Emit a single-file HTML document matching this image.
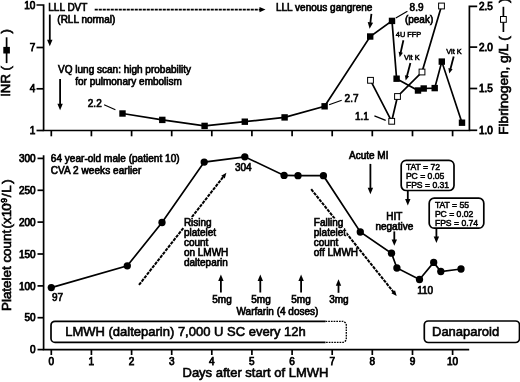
<!DOCTYPE html>
<html><head><meta charset="utf-8"><title>Figure</title>
<style>
html,body{margin:0;padding:0;background:#fff;}
body{width:520px;height:382px;overflow:hidden;position:relative;}
svg{position:absolute;left:0;top:0;display:block;filter:blur(0.3px);}
text{font-family:"Liberation Sans",sans-serif;fill:#000;stroke:#000;stroke-width:0.45px;}
.t10{font-size:10px;stroke-width:0.65px;}
.tk{font-size:10px;stroke-width:0.75px;}
.tkr{font-size:10px;stroke-width:0.8px;}
.t9{font-size:8.6px;stroke-width:0.5px;}
.t7{font-size:7.4px;stroke-width:0.5px;}
.t13{font-size:13px;stroke-width:0.6px;}
.ax{font-size:13.5px;stroke-width:0.65px;}
.ln{stroke:#000;stroke-width:1.7;fill:none;}
.ar{stroke:#000;stroke-width:1.8;fill:none;}
.thin{stroke:#000;stroke-width:1.2;fill:none;}
.dash{stroke:#000;stroke-width:2.05;fill:none;stroke-dasharray:3.3 1.0;}
</style></head><body>
<svg width="520" height="382" viewBox="0 0 520 382">
<rect x="0" y="0" width="520" height="382" fill="#fff"/>

<g class="ln">
<path d="M36.5,5 H43.6 V130.5 H469.4 V6.4 H477.2"/>
<path d="M36.5,47.5 H43.6"/>
<path d="M36.5,88.8 H43.6"/>
<path d="M36.5,130.5 H43.6"/>
<path d="M469.4,47.1 H477.2"/>
<path d="M469.4,88.5 H477.2"/>
<path d="M469.4,130.3 H477.2"/>
<path d="M51.3,130.5 V136.3"/>
<path d="M91.4,130.5 V136.3"/>
<path d="M131.6,130.5 V136.3"/>
<path d="M171.7,130.5 V136.3"/>
<path d="M211.8,130.5 V136.3"/>
<path d="M251.9,130.5 V136.3"/>
<path d="M292.1,130.5 V136.3"/>
<path d="M332.2,130.5 V136.3"/>
<path d="M372.3,130.5 V136.3"/>
<path d="M412.5,130.5 V136.3"/>
<path d="M452.6,130.5 V136.3"/>
<path d="M43.6,155.3 V349.7 H469.2"/>
<path d="M37.5,349.6 H43.6"/>
<path d="M37.5,317.7 H43.6"/>
<path d="M37.5,285.9 H43.6"/>
<path d="M37.5,254.0 H43.6"/>
<path d="M37.5,222.1 H43.6"/>
<path d="M37.5,190.3 H43.6"/>
<path d="M37.5,158.4 H43.6"/>
<path d="M51.3,349.7 V355"/>
<path d="M91.4,349.7 V355"/>
<path d="M131.6,349.7 V355"/>
<path d="M171.7,349.7 V355"/>
<path d="M211.8,349.7 V355"/>
<path d="M251.9,349.7 V355"/>
<path d="M292.1,349.7 V355"/>
<path d="M332.2,349.7 V355"/>
<path d="M372.3,349.7 V355"/>
<path d="M412.5,349.7 V355"/>
<path d="M452.6,349.7 V355"/>
</g>
<text class="tk" x="35.3" y="8.6" text-anchor="end">10</text>
<text class="tk" x="35.3" y="51.1" text-anchor="end">7</text>
<text class="tk" x="35.3" y="92.39999999999999" text-anchor="end">4</text>
<text class="tk" x="35.3" y="134.1" text-anchor="end">1</text>
<text class="tkr" x="479" y="10.0">2.5</text>
<text class="tkr" x="479" y="50.7">2.0</text>
<text class="tkr" x="479" y="92.1">1.5</text>
<text class="tkr" x="479" y="133.9">1.0</text>
<text class="tk" x="35.6" y="353.2" text-anchor="end">0</text>
<text class="tk" x="35.6" y="321.3" text-anchor="end">50</text>
<text class="tk" x="35.6" y="289.5" text-anchor="end">100</text>
<text class="tk" x="35.6" y="257.6" text-anchor="end">150</text>
<text class="tk" x="35.6" y="225.7" text-anchor="end">200</text>
<text class="tk" x="35.6" y="193.9" text-anchor="end">250</text>
<text class="tk" x="35.6" y="162.0" text-anchor="end">300</text>
<text class="tk" x="51.3" y="364.6" text-anchor="middle">0</text>
<text class="tk" x="91.4" y="364.6" text-anchor="middle">1</text>
<text class="tk" x="131.6" y="364.6" text-anchor="middle">2</text>
<text class="tk" x="171.7" y="364.6" text-anchor="middle">3</text>
<text class="tk" x="211.8" y="364.6" text-anchor="middle">4</text>
<text class="tk" x="251.9" y="364.6" text-anchor="middle">5</text>
<text class="tk" x="292.1" y="364.6" text-anchor="middle">6</text>
<text class="tk" x="332.2" y="364.6" text-anchor="middle">7</text>
<text class="tk" x="372.3" y="364.6" text-anchor="middle">8</text>
<text class="tk" x="412.5" y="364.6" text-anchor="middle">9</text>
<text class="tk" x="452.6" y="364.6" text-anchor="middle">10</text>
<text class="t13" x="182.5" y="377.4">Days after start of LMWH</text>
<text class="ax" style="font-size:13.4px" transform="translate(11,311) rotate(-90)">Platelet count<tspan dx="-2.3"> (x1</tspan><tspan dx="-0.8">0</tspan><tspan dx="-2.45" dy="-4.1" style="font-size:8.5px">-9</tspan><tspan dx="0.8" dy="4.1">/</tspan><tspan dx="0.7">L</tspan><tspan dx="1.65">)</tspan></text>
<text class="ax" style="font-size:13.2px" transform="translate(10.4,96.8) rotate(-90)">INR (</text>
<text class="ax" style="font-size:13.2px" transform="translate(10.4,33.5) rotate(-90)">)</text>
<path class="ln" d="M6.6,63.1 V37.3"/><rect x="3.3" y="46.9" width="6.6" height="6.6" fill="#000"/>
<text class="ax" style="font-size:13.6px" transform="translate(507.8,134.7) rotate(-90)">Fibrinogen, g/L (</text>
<text class="ax" style="font-size:13.6px" transform="translate(507.8,2.8) rotate(-90)">)</text>
<path class="ln" d="M503.4,32 V6.8"/><rect x="500.5" y="16.5" width="5.8" height="5.8" fill="#fff" stroke="#000" stroke-width="1"/>
<path class="dash" style="stroke-width:1.8;stroke-dasharray:3.1 0.9" d="M94.7,9.6 H261"/><path d="M265.5,9.6 L259.5,7 L259.5,12.2 Z" fill="#000"/>
<polyline class="ln" points="122.5,113.5 162.3,119.9 204.6,125.9 244.8,121.7 284.6,117.4 324.6,106.3 370.2,36.5 392,20.9 396.6,78.7 418,90.5 423.7,88.5 434.7,88.1 441.8,61.6 462,122.7"/>
<rect x="119.3" y="110.3" width="6.4" height="6.4" fill="#000"/>
<rect x="159.1" y="116.7" width="6.4" height="6.4" fill="#000"/>
<rect x="201.4" y="122.7" width="6.4" height="6.4" fill="#000"/>
<rect x="241.6" y="118.5" width="6.4" height="6.4" fill="#000"/>
<rect x="281.4" y="114.2" width="6.4" height="6.4" fill="#000"/>
<rect x="321.4" y="103.1" width="6.4" height="6.4" fill="#000"/>
<rect x="367.0" y="33.3" width="6.4" height="6.4" fill="#000"/>
<rect x="388.8" y="17.7" width="6.4" height="6.4" fill="#000"/>
<rect x="393.4" y="75.5" width="6.4" height="6.4" fill="#000"/>
<rect x="414.8" y="87.3" width="6.4" height="6.4" fill="#000"/>
<rect x="420.5" y="85.3" width="6.4" height="6.4" fill="#000"/>
<rect x="431.5" y="84.9" width="6.4" height="6.4" fill="#000"/>
<rect x="438.6" y="58.4" width="6.4" height="6.4" fill="#000"/>
<rect x="458.8" y="119.5" width="6.4" height="6.4" fill="#000"/>
<polyline class="ln" points="370.5,80.3 391.7,121.3 397.5,96.5 422,72 441.5,6"/>
<rect x="367.6" y="77.4" width="5.8" height="5.8" fill="#fff" stroke="#000" stroke-width="1"/>
<rect x="388.8" y="118.4" width="5.8" height="5.8" fill="#fff" stroke="#000" stroke-width="1"/>
<rect x="394.6" y="93.6" width="5.8" height="5.8" fill="#fff" stroke="#000" stroke-width="1"/>
<rect x="419.1" y="69.1" width="5.8" height="5.8" fill="#fff" stroke="#000" stroke-width="1"/>
<rect x="438.6" y="3.1" width="5.8" height="5.8" fill="#fff" stroke="#000" stroke-width="1"/>
<polyline class="ln" points="51.3,287.6 127.3,265.8 162,222.5 204.2,162.1 244.8,156.8 284.1,175.4 298,175.7 323.4,175.7 360.3,232 391.5,253.2 396.9,268 419.5,279.5 433.7,262.4 440.8,271.5 461,269"/>
<circle cx="51.3" cy="287.6" r="3.65" fill="#000"/>
<circle cx="127.3" cy="265.8" r="3.65" fill="#000"/>
<circle cx="162" cy="222.5" r="3.65" fill="#000"/>
<circle cx="204.2" cy="162.1" r="3.65" fill="#000"/>
<circle cx="244.8" cy="156.8" r="3.65" fill="#000"/>
<circle cx="284.1" cy="175.4" r="3.65" fill="#000"/>
<circle cx="298" cy="175.7" r="3.65" fill="#000"/>
<circle cx="323.4" cy="175.7" r="3.65" fill="#000"/>
<circle cx="360.3" cy="232" r="3.65" fill="#000"/>
<circle cx="391.5" cy="253.2" r="3.65" fill="#000"/>
<circle cx="396.9" cy="268" r="3.65" fill="#000"/>
<circle cx="419.5" cy="279.5" r="3.65" fill="#000"/>
<circle cx="433.7" cy="262.4" r="3.65" fill="#000"/>
<circle cx="440.8" cy="271.5" r="3.65" fill="#000"/>
<circle cx="461" cy="269" r="3.65" fill="#000"/>
<path class="dash" d="M139.0,284.9 L223.6,176.4"/><path d="M226.4,172.8 L224.8,178.6 L221.2,175.8 Z" fill="#000"/>
<path class="dash" d="M311.2,189.2 L393.9,292.6"/><path d="M396.7,296.1 L391.4,293.2 L395.0,290.3 Z" fill="#000"/>
<rect x="183" y="217" width="29" height="11" fill="#fff"/>
<rect x="313" y="218.6" width="30.5" height="9.4" fill="#fff"/><rect x="313" y="228" width="33.5" height="11" fill="#fff"/>
<path class="ar" d="M49.8,14.6 L49.8,40.8"/><path d="M49.8,46.2 L47.1,39.8 L52.5,39.8 Z" fill="#000"/>
<path class="ar" d="M60.1,78.9 L60.1,104.8"/><path d="M60.1,110.2 L57.4,103.8 L62.8,103.8 Z" fill="#000"/>
<path class="ar" d="M371.4,13.8 L370.3,23.4"/><path d="M369.6,28.8 L367.7,22.1 L373.1,22.8 Z" fill="#000"/>
<path class="ar" d="M403.4,40.2 L400.5,53.3"/><path d="M399.7,57.2 L398.6,51.8 L402.9,52.8 Z" fill="#000"/>
<path class="ar" d="M410.4,62.9 L406.8,76.7"/><path d="M405.7,80.6 L404.9,75.2 L409.1,76.3 Z" fill="#000"/>
<path class="ar" d="M453.7,56.6 L450.3,69.6"/><path d="M449.2,73.5 L448.4,68.1 L452.6,69.2 Z" fill="#000"/>
<path class="ar" d="M370.4,163.9 L370.4,188.8"/><path d="M370.4,194.2 L367.7,187.8 L373.1,187.8 Z" fill="#000"/>
<path class="ar" d="M407.8,190.5 L407.8,200.0"/><path d="M407.8,205.4 L405.1,199.0 L410.5,199.0 Z" fill="#000"/>
<path class="ar" d="M436.4,228.2 L436.4,237.5"/><path d="M436.4,242.9 L433.7,236.5 L439.1,236.5 Z" fill="#000"/>
<path class="ar" d="M394.3,231.4 L394.3,240.4"/><path d="M394.3,245.8 L391.6,239.4 L397.0,239.4 Z" fill="#000"/>
<path class="ar" d="M220.9,292.5 L220.9,280.0"/><path d="M220.9,274.6 L223.6,281.0 L218.2,281.0 Z" fill="#000"/>
<path class="ar" d="M260.3,292.5 L260.3,280.0"/><path d="M260.3,274.6 L263.0,281.0 L257.6,281.0 Z" fill="#000"/>
<path class="ar" d="M301.1,292.5 L301.1,280.0"/><path d="M301.1,274.6 L303.8,281.0 L298.4,281.0 Z" fill="#000"/>
<path class="ar" d="M338.5,292.8 L338.5,284.7"/><path d="M338.5,279.3 L341.2,285.7 L335.8,285.7 Z" fill="#000"/>
<path class="thin" d="M104.1,104.8 L115.4,109.8 M329.1,104.8 L341.7,100.3 M374.4,115.9 L385.7,120.4 M395.8,18.1 L407.4,11.3"/>
<path class="ln" d="M325.5,321.3 H55 a4,4 0 0 0 -4,4 V338.4 a4,4 0 0 0 4,4 H325.5"/>
<path class="ln" style="stroke-width:1.35" stroke-dasharray="1.7 1.0" d="M325.5,321.3 H342.3 a4,4 0 0 1 4,4 V338.4 a4,4 0 0 1 -4,4 H325.5"/>
<rect class="ln" x="424.3" y="321" width="95.2" height="21.5" rx="4" ry="4"/>
<rect class="ln" x="401.2" y="160.3" width="52.8" height="30.2" rx="5" ry="5" fill="#fff"/>
<rect class="ln" x="429.2" y="198.2" width="54.6" height="30" rx="5" ry="5" fill="#fff"/>
<text class="t10" x="48.3" y="11.3">LLL DVT</text>
<text class="t10" x="57.3" y="22.7">(RLL normal)</text>
<text class="t10" x="58.1" y="73.3">VQ lung scan: high probability</text>
<text class="t10" x="75.2" y="84.6">for pulmonary embolism</text>
<text class="t10" x="87.8" y="107.3">2.2</text>
<text class="t10" x="344.6" y="102.3">2.7</text>
<text class="t10" x="355" y="119.9">1.1</text>
<text class="t10" x="276" y="10.8">LLL venous gangrene</text>
<text class="t10" x="409.6" y="11.3">8.9</text>
<text class="t10" x="404.9" y="23.1">(peak)</text>
<text class="t7" x="395.8" y="37">4U FFP</text>
<text class="t7" x="404.1" y="60.3">Vit K</text>
<text class="t7" x="446.3" y="53.6">Vit K</text>
<text class="t10" x="50.8" y="161.9" textLength="128.8" lengthAdjust="spacing">64 year-old male (patient 10)</text>
<text class="t10" x="50.7" y="174.4" textLength="90.6" lengthAdjust="spacing">CVA 2 weeks earlier</text>
<text class="t10" x="234.9" y="170.7">304</text>
<text class="t10" x="52" y="301">97</text>
<text class="t10" x="417.2" y="294.2">110</text>
<text class="t10" x="183.9" y="225.6">Rising</text>
<text class="t10" x="183.9" y="235.9">platelet</text>
<text class="t10" x="183.9" y="246.1">count</text>
<text class="t10" x="183.9" y="256.3">on LMWH</text>
<text class="t10" x="183.9" y="266.3">dalteparin</text>
<text class="t10" x="313.8" y="225.6">Falling</text>
<text class="t10" x="313.8" y="235.9">platelet</text>
<text class="t10" x="313.8" y="246.1">count</text>
<text class="t10" x="313.8" y="256.3">off LMWH</text>
<text class="t10" x="349" y="158.9">Acute MI</text>
<text class="t10" x="386.2" y="219.7">HIT</text>
<text class="t10" x="375.4" y="229.7">negative</text>
<text class="t10" x="212.3" y="303.1">5mg</text>
<text class="t10" x="251.3" y="303.1">5mg</text>
<text class="t10" x="291.3" y="303.1">5mg</text>
<text class="t10" x="329.2" y="303.1">3mg</text>
<text class="t10" x="236.5" y="314.9">Warfarin (4 doses)</text>
<text class="t13" x="65.2" y="336">LMWH (dalteparin) 7,000 U SC every 12h</text>
<text class="t13" x="432" y="336.3">Danaparoid</text>
<text class="t9" x="405.9" y="169.8">TAT = 72</text>
<text class="t9" x="405.9" y="178.8">PC = 0.05</text>
<text class="t9" x="405.9" y="187.9">FPS = 0.31</text>
<text class="t9" x="434.9" y="207.8">TAT = 55</text>
<text class="t9" x="434.9" y="216.8">PC = 0.02</text>
<text class="t9" x="434.9" y="225.9">FPS = 0.74</text>
</svg></body></html>
